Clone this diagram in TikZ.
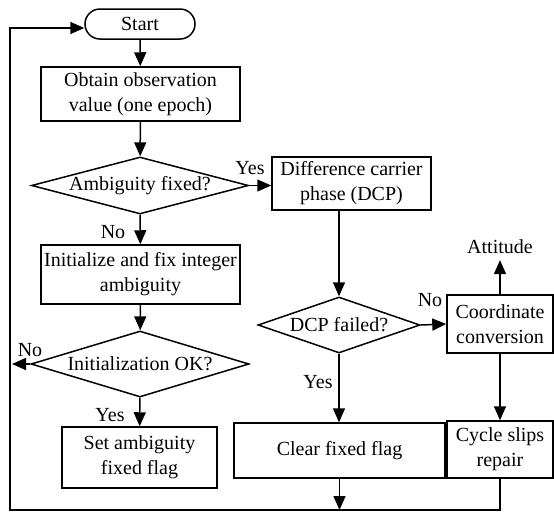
\documentclass[tikz,border=0pt]{standalone}
\usepackage{fontspec}
\setmainfont{Liberation Serif}
\usetikzlibrary{shapes.geometric, positioning}
\usetikzlibrary{arrows.meta}

\begin{document}
\begin{tikzpicture}[x=1pt, y=-1pt, line width=1.5pt,
        every node/.style={font=\fontsize{20}{25}\selectfont},
        box/.style={draw, rectangle, align=center, inner sep=0pt},
        decision/.style={draw, diamond, inner sep=0pt},
        flow/.style={-{Triangle[length=14pt,width=12pt]}}]
        \useasboundingbox (0,0) rectangle (554,512);
        
        % Left column
        \node[draw, rounded corners=15pt, minimum width=110pt, minimum height=30pt, inner sep=0pt] (start) at (140,24) {Start};
        \node[box, minimum width=199pt, minimum height=54pt] (obtain) at (140.5,94) {Obtain observation\\value (one epoch)};
        \node[decision, minimum width=217pt, minimum height=57pt, label=center:{Ambiguity fixed?}] (fixed) at (140,185.5) {};
        \node[box, minimum width=199pt, minimum height=59pt] (init) at (140.5,274.5) {Initialize and fix integer\\ambiguity};
        \node[decision, minimum width=218pt, minimum height=66pt, label=center:{Initialization OK?}] (initok) at (140,364) {};
        \node[box, minimum width=155pt, minimum height=61pt] (setflag) at (139.5,457.5) {Set ambiguity\\fixed flag};
        
        % Right part
        \node[box, minimum width=159pt, minimum height=53pt] (dcp) at (351.5,183.5) {Difference carrier\\phase (DCP)};
        \node[decision, minimum width=162pt, minimum height=56pt, label=center:{DCP failed?}] (dcpfail) at (339,325) {};
        \node[box, minimum width=211pt, minimum height=55pt] (clear) at (339.5,450.5) {Clear fixed flag};
        \node[box, minimum width=106pt, minimum height=58pt] (coord) at (500,324) {Coordinate\\conversion};
        \node[box, minimum width=106pt, minimum height=57pt] (cycle) at (500,449.5) {Cycle slips\\repair};
        \node (attitude) at (500,247) {Attitude};
        
        % Labels
        \node (yes1) at (250,168) {Yes};
        \node (no1) at (113,232) {No};
        \node (no2) at (30,350) {No};
        \node (yes2) at (110,415) {Yes};
        \node (no3) at (430,300) {No};
        \node (yes3) at (318,382) {Yes};
        
        \coordinate (loopbl) at (10,510);
        
        % Arrows
        \draw[flow] (start) -- (obtain);
        \draw[flow] (obtain) -- (fixed);
        \draw[flow] (fixed) -- (init);
        \draw[flow] (init) -- (initok);
        \draw[flow] (initok) -- (setflag);
        \draw[flow] (fixed.east) -- (fixed.east -| dcp.west);
        \draw[flow] (dcpfail.north |- dcp.south) -- (dcpfail.north);
        \draw[flow] (dcpfail.east) -- (coord.west);
        \draw[flow] (dcpfail.south) -- (clear.north -| dcpfail.south);
        \draw[flow] (coord.north) -- ([yshift=-2pt]attitude.south);
        \draw[flow] (coord.south) -- (cycle.north);
        \draw[flow] (initok.west) -- ([xshift=2pt]initok.west -| loopbl);
        \draw[flow] (clear.south) -- (clear.south |- loopbl);
        
        % Loop back
        \draw[flow] (cycle.south) |- (loopbl) |- ([yshift=-4pt]start.west);
    \end{tikzpicture}
\end{document}
